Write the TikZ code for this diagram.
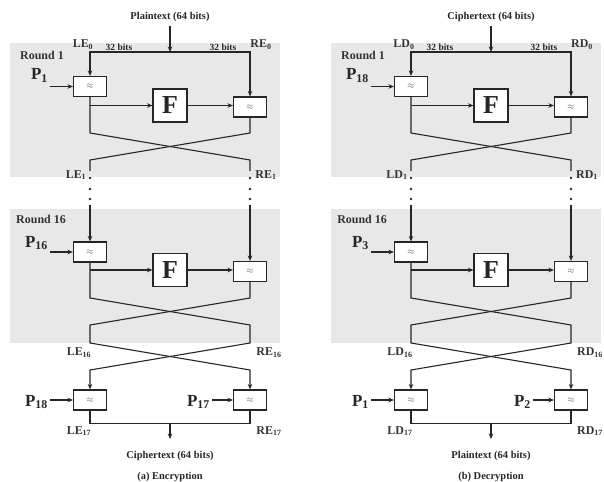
\documentclass[tikz,border=0pt]{standalone}
\usepackage{fontspec}
\setmainfont{Liberation Serif}
\usetikzlibrary{arrows.meta}
\tikzset{
 ln/.style={line width=1.1bp, draw=black!85},
 arr/.style={ln, -{Stealth[length=5.5bp,width=4.5bp]}},
 xbox/.style={draw=black!85, line width=1.1bp, fill=white, minimum width=33bp, minimum height=20bp, inner sep=0pt, font=\fontsize{9}{9}\selectfont, text=black!70},
 fbox/.style={draw=black!85, line width=1.1bp, fill=white, minimum width=34bp, minimum height=33bp, inner sep=0pt, font=\fontsize{26}{26}\selectfont\bfseries, text=black!85},
 lbl/.style={font=\fontsize{12}{12}\selectfont\bfseries, inner sep=0pt, text=black!80},
 bits/.style={font=\fontsize{9.5}{10}\selectfont\bfseries, inner sep=0pt, text=black!85},
 ttl/.style={font=\fontsize{10.5}{11}\selectfont\bfseries, inner sep=0pt, text=black!85},
 pl/.style={font=\fontsize{17}{17}\selectfont\bfseries, inner sep=0pt, text=black!85, anchor=base east},
 band/.style={fill=black!9},
 dotc/.style={circle, fill=black!85, inner sep=0pt, minimum size=2.8bp},
}
\newcommand\halfdiag[9]{%
\begin{scope}[xshift=#1]
\fill[band] (10,43) rectangle (280,177);
\fill[band] (10,209) rectangle (280,343);
% top
\node[ttl] (top#3) at (170,17) {#2};
\coordinate (tj#3) at (170,52);
\draw[arr, shorten <=4bp] (top#3.south) -- (tj#3);
\node[lbl] (l0#3) at (83,45) {L#3\textsubscript{0}};
\node[lbl] (r0#3) at (261,45) {R#3\textsubscript{0}};
\node[bits] (bl#3) at (119,47.5) {32 bits};
\node[bits] (br#3) at (223,47.5) {32 bits};
% round 1
\node[lbl] (rd1#3) at (42,55) {Round 1};
\node[xbox] (a1#3) at (90,86.5) {$\approx$};
\node[xbox] (b1#3) at (250,107) {$\approx$};
\node[fbox] (f1#3) at (170,105.5) {F};
\node[pl] (p1#3) at (48,80) {P\textsubscript{#4}};
\draw[arr] (tj#3) -| (a1#3.north);
\draw[arr] (tj#3) -| (b1#3.north);
\draw[arr, shorten <=2bp] (p1#3.east |- a1#3.west) -- (a1#3.west);
\draw[arr] (a1#3.south |- f1#3.west) -- (f1#3.west);
\draw[arr] (f1#3.east) -- (f1#3.east -| b1#3.west);
\coordinate (u1#3) at (90,171);
\coordinate (v1#3) at (250,171);
\draw[ln] (a1#3.south) -- (90,133) -- (250,160) -- (v1#3);
\draw[ln] (b1#3.south) -- (250,133) -- (90,160) -- (u1#3);
\node[lbl] (l1#3) at (76,175) {L#3\textsubscript{1}};
\node[lbl] (r1#3) at (266,175) {R#3\textsubscript{1}};
\foreach \yy in {178,189,199}{
 \node[dotc] at (90,\yy) {};
 \node[dotc] at (250,\yy) {};
}
% round 16
\node[lbl] (rd16#3) at (41,219) {Round 16};
\node[xbox] (a16#3) at (90,252) {$\approx$};
\node[xbox] (b16#3) at (250,271.5) {$\approx$};
\node[fbox] (f16#3) at (170,270) {F};
\node[pl] (p16#3) at (48,247) {P\textsubscript{#5}};
\coordinate (u16#3) at (90,205);
\coordinate (v16#3) at (250,205);
\draw[arr] (u16#3) -- (a16#3.north);
\draw[arr] (v16#3) -- (b16#3.north);
\draw[arr, shorten <=2bp] (p16#3.east |- a16#3.west) -- (a16#3.west);
\draw[arr] (a16#3.south |- f16#3.west) -- (f16#3.west);
\draw[arr] (f16#3.east) -- (f16#3.east -| b16#3.west);
% final
\node[xbox] (c#3) at (90,400) {$\approx$};
\node[xbox] (d#3) at (250,400) {$\approx$};
\draw[arr] (a16#3.south) -- (90,298) -- (250,325) -- (250,343) -- (90,370) -- (c#3.north);
\draw[arr] (b16#3.south) -- (250,298) -- (90,325) -- (90,343) -- (250,370) -- (d#3.north);
\node[lbl] (l16#3) at (79,353) {L#3\textsubscript{16}};
\node[lbl] (r16#3) at (269,353) {R#3\textsubscript{16}};
\node[pl] (pc#3) at (48,406) {P\textsubscript{#6}};
\node[pl] (pd#3) at (210,406) {P\textsubscript{#7}};
\draw[arr, shorten <=2bp] (pc#3.east |- c#3.west) -- (c#3.west);
\draw[arr, shorten <=2bp] (pd#3.east |- d#3.west) -- (d#3.west);
\draw[ln] (c#3.south) -- ++(0,13) -| (d#3.south);
\coordinate (bj#3) at (170,423);
\node[ttl] (bot#3) at (170,456) {#8};
\draw[arr] (bj#3) -- ([yshift=12bp]bot#3.north);
\node[lbl] (l17#3) at (79,431) {L#3\textsubscript{17}};
\node[lbl] (r17#3) at (269,431) {R#3\textsubscript{17}};
\node[ttl] (cap#3) at (170,477) {#9};
\end{scope}}
\begin{document}
\begin{tikzpicture}[x=1bp,y=-1bp]
\useasboundingbox (0,0) rectangle (604,482);
\halfdiag{0bp}{Plaintext (64 bits)}{E}{1}{16}{18}{17}{Ciphertext (64 bits)}{(a) Encryption}
\halfdiag{321bp}{Ciphertext (64 bits)}{D}{18}{3}{1}{2}{Plaintext (64 bits)}{(b) Decryption}
\end{tikzpicture}
\end{document}
